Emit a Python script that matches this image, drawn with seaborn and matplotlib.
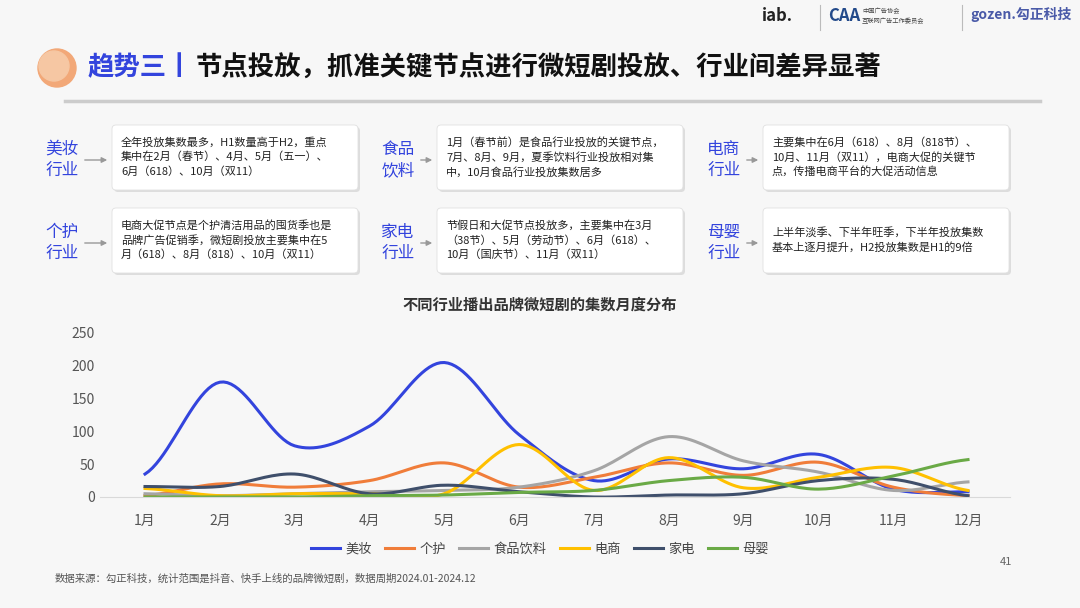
import numpy as np
import pandas as pd
import seaborn as sns
import matplotlib
matplotlib.use("Agg")
import matplotlib.pyplot as plt
from matplotlib.patches import FancyBboxPatch, Circle

plt.rcParams["font.family"] = ["Noto Sans CJK SC", "DejaVu Sans"]

months = ["1月", "2月", "3月", "4月", "5月", "6月", "7月", "8月", "9月", "10月", "11月", "12月"]
meizhuang = [35, 175, 78, 108, 205, 95, 25, 58, 43, 65, 12, 8]
gehu = [2, 20, 15, 25, 52, 15, 30, 52, 33, 53, 15, 2]
shipin = [5, 2, 5, 8, 10, 15, 40, 92, 55, 38, 10, 23]
dianshang = [13, 2, 5, 5, 5, 80, 10, 60, 14, 30, 45, 10]
jiadian = [16, 16, 35, 5, 18, 8, 0, 3, 5, 25, 27, 2]
muying = [0, 0, 0, 2, 3, 7, 10, 25, 30, 12, 32, 57]
series_names = ["美妆", "个护", "食品饮料", "电商", "家电", "母婴"]
series_vals = [meizhuang, gehu, shipin, dianshang, jiadian, muying]
colors = ["#3344dd", "#f07d3a", "#a5a5a5", "#ffc000", "#3f4f6b", "#6aaa46"]

BLUE = "#3344dd"
BG = "#f7f7f7"

def smooth(y, n=20):
    y = np.asarray(y, float)
    p = np.concatenate([[y[0]], y, [y[-1]]])
    xs, ys = [], []
    for i in range(len(y) - 1):
        p0, p1, p2, p3 = p[i], p[i + 1], p[i + 2], p[i + 3]
        t = np.linspace(0, 1, n, endpoint=False)
        v = 0.5 * ((2 * p1) + (-p0 + p2) * t + (2 * p0 - 5 * p1 + 4 * p2 - p3) * t**2 + (-p0 + 3 * p1 - 3 * p2 + p3) * t**3)
        xs.extend(i + 1 + t)
        ys.extend(v)
    xs.append(len(y)); ys.append(y[-1])
    return np.array(xs), np.array(ys)

rows = []
for name, vals in zip(series_names, series_vals):
    xs, ys = smooth(vals)
    for a, b in zip(xs, ys):
        rows.append({"x": a, "y": b, "s": name})
df = pd.DataFrame(rows)

W, H = 1080, 608
fig = plt.figure(figsize=(10.8, 6.08), dpi=100, facecolor=BG)

def fx(x): return x / W
def fy(y): return 1 - y / H

bg = fig.add_axes([0, 0, 1, 1])
bg.set_xlim(0, W); bg.set_ylim(H, 0); bg.axis("off")
bg.set_facecolor(BG)

# header
bg.add_patch(Circle((57, 68), 19, color="#f2a878", zorder=2))
bg.add_patch(Circle((54, 66), 15, color="#f6c7a3", zorder=3))
bg.text(88, 68, "趋势三丨", color=BLUE, fontsize=19, fontweight="bold", va="center")
bg.text(196, 68, "节点投放，抓准关键节点进行微短剧投放、行业间差异显著", color="#111111", fontsize=19, fontweight="bold", va="center")
bg.plot([65, 1040], [101, 101], color="#cccccc", lw=2.5)
bg.text(762, 16, "iab.", fontsize=12, fontweight="bold", color="#222222", va="center")
bg.text(828, 16, "CAA", fontsize=12, fontweight="bold", color="#234a8a", va="center")
bg.text(862, 16, "中国广告协会\n互联网广告工作委员会", fontsize=4.5, color="#444444", va="center", linespacing=1.2)
bg.text(970, 14, "gozen.勾正科技", fontsize=10, fontweight="bold", color="#4a5aa8", va="center")
bg.plot([820, 820], [5, 30], color="#bbbbbb", lw=0.8)
bg.plot([962, 962], [5, 30], color="#bbbbbb", lw=0.8)

boxes = [
    ("美妆\n行业", 62, 160, 112, 125, "全年投放集数最多，H1数量高于H2，重点\n集中在2月（春节）、4月、5月（五一）、\n6月（618）、10月（双11）"),
    ("食品\n饮料", 398, 160, 437, 125, "1月（春节前）是食品行业投放的关键节点，\n7月、8月、9月，夏季饮料行业投放相对集\n中，10月食品行业投放集数居多"),
    ("电商\n行业", 724, 160, 763, 125, "主要集中在6月（618）、8月（818节）、\n10月、11月（双11），电商大促的关键节\n点，传播电商平台的大促活动信息"),
    ("个护\n行业", 62, 243, 112, 208, "电商大促节点是个护清洁用品的囤货季也是\n品牌广告促销季，微短剧投放主要集中在5\n月（618）、8月（818）、10月（双11）"),
    ("家电\n行业", 398, 243, 437, 208, "节假日和大促节点投放多，主要集中在3月\n（38节）、5月（劳动节）、6月（618）、\n10月（国庆节）、11月（双11）"),
    ("母婴\n行业", 724, 243, 763, 208, "上半年淡季、下半年旺季，下半年投放集数\n基本上逐月提升，H2投放集数是H1的9倍"),
]
for lab, lx, ly, bx, by, txt in boxes:
    bg.text(lx, ly, lab, color=BLUE, fontsize=12, ha="center", va="center", linespacing=1.3)
    bg.annotate("", xy=(bx - 2, ly), xytext=(lx + 20, ly),
                arrowprops=dict(arrowstyle="-|>", color="#999999", lw=1, mutation_scale=8))
    bg.add_patch(FancyBboxPatch((bx + 2, by + 2), 246, 65, boxstyle="round,pad=0,rounding_size=4",
                                fc="#dddddd", ec="none", zorder=1))
    bg.add_patch(FancyBboxPatch((bx, by), 246, 65, boxstyle="round,pad=0,rounding_size=4",
                                fc="white", ec="#e0e0e0", lw=0.6, zorder=2))
    bg.text(bx + 9, by + 32, txt, fontsize=8, color="#222222", va="center", linespacing=1.45, zorder=3)

bg.text(540, 305, "不同行业播出品牌微短剧的集数月度分布", fontsize=11, fontweight="bold", color="#333333", ha="center", va="center")
bg.text(55, 579, "数据来源：勾正科技，统计范围是抖音、快手上线的品牌微短剧，数据周期2024.01-2024.12", fontsize=7.5, color="#555555", va="center")
bg.text(1000, 562, "41", fontsize=8, color="#666666", va="center")

# chart
ax = fig.add_axes([fx(100), fy(497), fx(910), 164 / H])
ax.set_facecolor("none")
sns.lineplot(data=df, x="x", y="y", hue="s", palette=dict(zip(series_names, colors)),
             hue_order=series_names, lw=2.2, ax=ax, legend=False, sort=False,
             estimator=None)
ax.set_xlim(1 - 45 / 74.8, 12 + 42 / 74.8)
ax.set_ylim(0, 250)
ax.set_yticks([0, 50, 100, 150, 200, 250])
ax.set_xticks(range(1, 13))
ax.set_xticklabels(months)
ax.tick_params(length=0, labelsize=10, colors="#555555")
ax.tick_params(axis="x", pad=12)
for s in ["top", "right", "left"]:
    ax.spines[s].set_visible(False)
ax.spines["bottom"].set_color("#d9d9d9")
ax.set_xlabel(""); ax.set_ylabel("")

from matplotlib.lines import Line2D
handles = [Line2D([0], [0], color=c, lw=2.2) for c in colors]
fig.legend(handles, series_names, loc="center", bbox_to_anchor=(fx(540), fy(549)), ncol=6,
           frameon=False, fontsize=9.5, handlelength=2.2, columnspacing=1.0, handletextpad=0.4,
           labelcolor="#444444")

fig.savefig("out.png", dpi=100, facecolor=BG)
